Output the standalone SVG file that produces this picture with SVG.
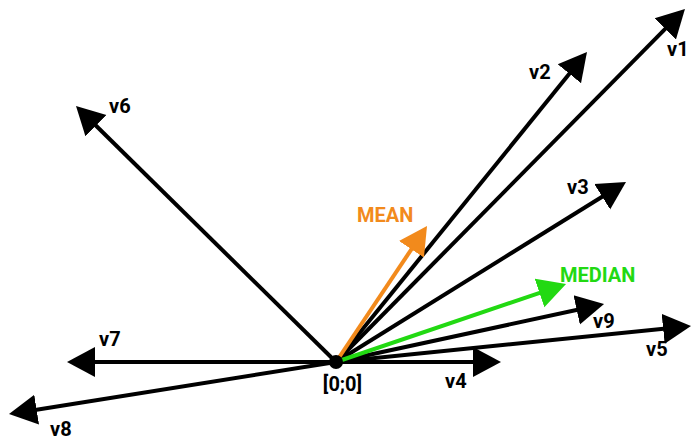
<svg xmlns="http://www.w3.org/2000/svg" width="691" height="439" viewBox="0 0 691 439">
<style>
.v{stroke:#000;stroke-width:4;fill:none}
.t{font-family:Roboto,"Liberation Sans",sans-serif;font-size:20px;font-weight:700;fill:#000}
</style>
<defs>
<marker id="ab" markerUnits="userSpaceOnUse" markerWidth="30" markerHeight="32" refX="8" refY="15" orient="auto" viewBox="0 0 30 30"><path d="M0,0 L28,15 L0,30 z" fill="#000"/></marker>
<marker id="ao" markerUnits="userSpaceOnUse" markerWidth="30" markerHeight="32" refX="8" refY="15" orient="auto" viewBox="0 0 30 30"><path d="M0,0 L28,15 L0,30 z" fill="#F28A1C"/></marker>
<marker id="ag" markerUnits="userSpaceOnUse" markerWidth="30" markerHeight="32" refX="8" refY="15" orient="auto" viewBox="0 0 30 30"><path d="M0,0 L28,15 L0,30 z" fill="#22D912"/></marker>
</defs>
<rect width="691" height="439" fill="#fff"/>
<g id="connectors">
<line class="v" x1="336" y1="362" x2="670.9" y2="23.2" marker-end="url(#ab)"/>
<line class="v" x1="336" y1="362" x2="574.4" y2="67.5" marker-end="url(#ab)"/>
<line class="v" x1="336" y1="362" x2="609" y2="192.5" marker-end="url(#ab)"/>
<line class="v" x1="336" y1="362" x2="481" y2="362" marker-end="url(#ab)"/>
<line class="v" x1="336" y1="362" x2="671.1" y2="328" marker-end="url(#ab)"/>
<line class="v" x1="336" y1="362" x2="90.25" y2="120" marker-end="url(#ab)"/>
<line class="v" x1="336" y1="362" x2="87" y2="362" marker-end="url(#ab)"/>
<line class="v" x1="336" y1="362" x2="28.75" y2="410.9" marker-end="url(#ab)"/>
<line class="v" x1="336" y1="362" x2="584.5" y2="308.2" marker-end="url(#ab)"/>
<line class="v" style="stroke:#F28A1C" x1="336" y1="362" x2="415.9" y2="242.6" marker-end="url(#ao)"/>
<line class="v" style="stroke:#22D912" x1="336" y1="362" x2="547.1" y2="290.4" marker-end="url(#ag)"/>
</g>
<g id="origin"><circle cx="336" cy="362" r="7" fill="#000"/><text class="t" x="342.5" y="391" text-anchor="middle">[0;0]</text></g>
<g id="v1"><text class="t" x="667" y="56">v1</text></g>
<g id="v2"><text class="t" x="529" y="79">v2</text></g>
<g id="v3"><text class="t" x="567" y="194">v3</text></g>
<g id="v4"><text class="t" x="445" y="388">v4</text></g>
<g id="v5"><text class="t" x="646" y="356">v5</text></g>
<g id="v6"><text class="t" x="109" y="113">v6</text></g>
<g id="v7"><text class="t" x="99" y="346">v7</text></g>
<g id="v8"><text class="t" x="50" y="436">v8</text></g>
<g id="v9"><text class="t" x="593" y="328">v9</text></g>
<g id="mean"><text class="t" x="357" y="222" style="fill:#F28A1C">MEAN</text></g>
<g id="median"><text class="t" x="560" y="281.5" style="fill:#22D912">MEDIAN</text></g>
</svg>
